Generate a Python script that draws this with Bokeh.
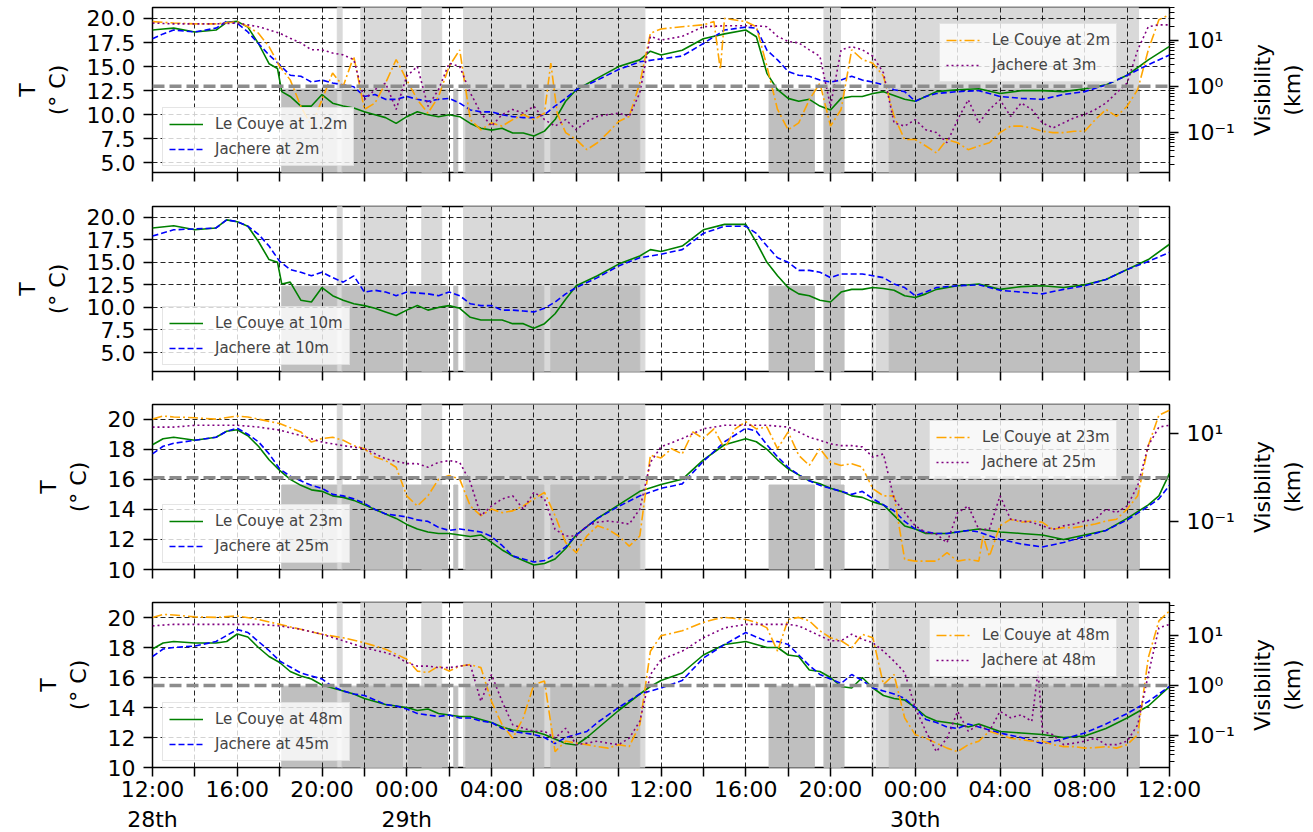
import math
from bokeh.plotting import figure
from bokeh.models import (Range1d, LogScale, LogAxis, FixedTicker, Legend, LegendItem,
                          CustomJSTickFormatter, NumeralTickFormatter, Span)
from bokeh.layouts import column, row
from bokeh.core.properties import value
from bokeh.embed import file_html
from bokeh.resources import INLINE

FONT = "DejaVu Sans"

# ---------------- data (hours since 28th 12:00) ----------------
x_label_hours = [0, 4, 8, 12, 16, 20, 24, 28, 32, 36, 40, 44, 48]
x_labels = ["12:00\n28th", "16:00", "20:00", "00:00\n29th", "04:00", "08:00", "12:00",
            "16:00", "20:00", "00:00\n30th", "04:00", "08:00", "12:00"]

vis_ticks_km = [0.1, 1, 10]
vis_tick_labels = ["10\u207b\u00b9", "10\u2070", "10\u00b9"]
fog_threshold_km = 1.0

# shaded periods (hours)
light_start = [8.72, 9.83, 12.71, 14.68, 31.69, 33.95, 34.15]
light_end = [8.95, 12.0, 13.65, 23.24, 32.47, 34.05, 46.54]
dark_start = [6.1, 8.95, 12.05, 14.22, 14.79, 18.8, 29.1, 31.7, 34.77]
dark_end = [8.7, 11.8, 13.94, 14.41, 18.47, 23.0, 31.24, 32.64, 46.58]

# Panel 1 : temperature (deg C)
p1_couye_T = [(0,18.8),(0.5,18.9),(1,19.0),(2,18.6),(3,18.8),(3.5,19.6),(4,19.7),(4.5,19.1),(5,17.4),(5.5,15.3),(5.9,14.8),(6.1,12.4),(6.5,11.9),(7,10.9),(7.5,10.9),(8,12.1),(8.5,11.2),(9,10.9),(9.5,10.7),(10,10.3),(10.5,10.0),(11,9.7),(11.5,9.1),(12,9.8),(12.5,10.3),(13,10.0),(13.5,9.8),(14,10.0),(14.5,9.8),(15,9.1),(15.5,8.6),(16,8.4),(16.5,8.6),(17,8.1),(17.5,8.1),(18,7.8),(18.5,8.3),(19,9.5),(19.5,11.4),(20,12.6),(21,13.8),(22,15.0),(23,15.7),(23.5,16.6),(24,16.2),(25,16.7),(26,17.9),(27,18.4),(28,18.8),(28.5,18.1),(29,14.3),(29.5,12.6),(30,11.7),(30.5,11.4),(31,11.6),(31.5,10.9),(32,10.5),(32.5,11.7),(33,11.9),(33.5,11.9),(34,12.2),(34.5,12.4),(35,12.0),(35.5,11.6),(36,11.4),(36.5,11.9),(37,12.4),(38,12.6),(39,12.7),(40,12.2),(41,12.5),(42,12.5),(43,12.4),(44,12.7),(45,13.1),(46,14.1),(47,15.7),(48,17.1)]
p1_jachere_T = [(0,17.9),(0.5,18.4),(1,18.8),(2,18.6),(3,19.0),(3.5,19.7),(4,19.5),(4.5,18.6),(5,17.4),(5.5,16.2),(6,15.2),(6.5,14.1),(7,14.0),(7.5,13.4),(8,13.6),(8.5,13.3),(9,13.1),(9.5,12.9),(10,11.9),(10.5,12.1),(11,11.6),(11.5,11.6),(12,11.9),(12.5,11.6),(13,11.4),(13.5,11.6),(14,11.7),(14.5,11.2),(15,10.5),(15.5,10.3),(16,10.3),(16.5,10.0),(17,9.8),(17.5,9.7),(18,9.7),(18.5,10.0),(19,10.9),(19.5,11.7),(20,12.6),(21,13.6),(22,14.7),(23,15.5),(24,15.8),(25,16.1),(26,17.4),(27,18.8),(28,19.1),(28.5,19.0),(29,16.7),(29.5,15.7),(30,14.5),(30.5,14.1),(31,14.0),(31.5,13.6),(32,13.4),(32.5,13.6),(33,14.0),(33.5,13.6),(34,13.4),(34.5,13.1),(35,12.6),(35.5,12.4),(36,11.4),(36.5,11.9),(37,12.2),(38,12.4),(39,12.5),(40,11.9),(41,11.7),(42,11.6),(43,12.1),(44,12.4),(45,13.1),(46,14.1),(47,15.2),(48,16.2)]
# Panel 1 : visibility, log10(km)
p1_couye_vis = [(0,1.40),(1,1.37),(2,1.35),(3,1.35),(4,1.40),(4.5,1.29),(5,1.15),(5.5,0.86),(6,0.43),(6.5,0.14),(7,-0.43),(7.5,-0.86),(8,-0.29),(8.5,0.29),(9,0.0),(9.5,0.65),(10,-0.50),(10.5,-0.36),(11,0.07),(11.5,0.58),(12,0.14),(12.5,-0.29),(13,-0.58),(13.5,-0.22),(14,0.43),(14.5,0.79),(15,-0.72),(15.5,-0.94),(16,-0.79),(16.5,-0.86),(17,-0.72),(17.5,-0.61),(18,-0.72),(18.5,-0.58),(18.8,0.50),(19.1,-0.58),(19.5,-1.0),(20,-1.15),(20.5,-1.37),(21,-1.22),(21.5,-1.0),(22,-0.76),(22.5,-0.65),(23,0.07),(23.5,1.15),(24,1.24),(25,1.29),(26,1.33),(26.5,1.40),(26.8,0.36),(27,1.47),(28,1.40),(28.5,1.29),(29,0.43),(29.5,-0.50),(30,-0.94),(30.5,-0.79),(31,-0.29),(31.5,0.07),(32,-0.86),(32.5,-0.50),(33,0.79),(33.5,0.58),(34,0.50),(34.5,0.22),(35,-0.65),(35.5,-1.15),(36,-1.15),(36.5,-1.29),(37,-1.44),(37.5,-1.15),(38,-1.22),(38.5,-1.37),(39,-1.29),(39.5,-1.22),(40,-1.0),(40.5,-0.86),(41,-0.86),(41.5,-0.90),(42,-0.97),(42.5,-1.0),(43,-1.0),(43.5,-0.97),(44,-0.97),(44.5,-0.72),(45,-0.50),(45.5,-0.65),(46,-0.43),(46.5,-0.07),(47,0.79),(47.5,1.44),(48,1.55)]
p1_jachere_vis = [(0,1.37),(1,1.35),(2,1.35),(3,1.35),(4,1.37),(4.5,1.33),(5,1.29),(5.5,1.22),(6,1.15),(6.5,1.04),(7,0.94),(7.5,0.79),(8,0.79),(8.5,0.72),(9,0.68),(9.5,0.58),(10,-0.29),(10.5,-0.07),(11,0.07),(11.5,-0.50),(12,0.22),(12.5,0.43),(13,-0.43),(13.5,-0.07),(14,0.50),(14.5,0.43),(15,-0.14),(15.5,-0.58),(16,-0.86),(16.5,-0.61),(17,-0.50),(17.5,-0.58),(18,-0.43),(18.5,-0.72),(19,-0.86),(19.5,-0.72),(20,-0.94),(20.5,-0.76),(21,-0.65),(21.5,-0.61),(22,-0.58),(22.5,-0.65),(23,-0.14),(23.5,1.08),(24,1.0),(25,1.08),(26,1.29),(27,1.31),(28,1.31),(28.5,1.31),(29,1.29),(29.5,1.08),(30,0.97),(30.5,0.94),(31,0.79),(31.5,0.65),(32,-0.43),(32.5,0.79),(33,0.86),(33.5,0.79),(34,0.65),(34.5,0.29),(35,-0.79),(35.5,-0.86),(36,-0.72),(36.5,-0.94),(37,-1.0),(37.5,-1.22),(38,-0.72),(38.5,-0.29),(39,-0.79),(39.5,-0.50),(40,-0.29),(40.5,-0.65),(41,-0.36),(41.5,-0.50),(42,-0.79),(42.5,-0.90),(43,-0.79),(43.5,-0.68),(44,-0.61),(44.5,-0.50),(45,-0.36),(45.5,-0.14),(46,0.07),(46.5,0.79),(47,1.29),(47.5,1.33),(48,1.33)]

# Panel 2 : temperature (deg C)
p2_couye_T = [(0,18.8),(1,19.05),(2,18.6),(3,18.8),(3.5,19.7),(4,19.5),(4.5,19.0),(5,17.3),(5.5,15.3),(5.9,15.0),(6.1,12.6),(6.5,12.8),(7,10.8),(7.5,10.6),(8,12.2),(8.5,11.3),(9,10.8),(9.5,10.4),(10,10.2),(10.5,9.9),(11,9.5),(11.5,9.1),(12,9.7),(12.5,10.2),(13,9.7),(13.5,10.0),(14,10.2),(14.5,9.9),(15,8.9),(15.5,8.6),(16,8.6),(16.5,8.6),(17,8.2),(17.5,8.2),(18,7.7),(18.5,8.2),(19,9.3),(19.5,10.9),(20,12.4),(21,13.5),(22,14.8),(23,15.7),(23.5,16.4),(24,16.2),(25,16.8),(26,18.6),(27,19.2),(28,19.2),(28.5,17.2),(29,15.0),(29.5,13.5),(30,12.2),(30.5,11.5),(31,11.3),(31.5,10.8),(32,10.6),(32.5,11.7),(33,12.0),(33.5,12.0),(34,12.2),(34.5,12.1),(35,11.9),(35.5,11.3),(36,11.1),(36.5,11.5),(37,12.0),(38,12.4),(39,12.6),(40,12.0),(41,12.3),(42,12.4),(43,12.2),(44,12.5),(45,13.1),(46,14.2),(47,15.3),(48,17.0)]
p2_jachere_T = [(0,17.9),(1,18.6),(2,18.7),(3,18.8),(3.5,19.7),(4,19.5),(4.5,19.0),(5,18.1),(5.5,16.8),(6,15.1),(6.5,14.2),(7,13.9),(7.5,13.5),(8,13.9),(8.5,13.3),(9,12.8),(9.5,13.5),(10,11.7),(10.5,11.9),(11,11.7),(11.5,11.3),(12,11.7),(12.5,11.6),(13,11.5),(13.5,11.3),(14,11.7),(14.5,11.3),(15,10.4),(15.5,10.2),(16,10.2),(16.5,9.7),(17,9.7),(17.5,9.6),(18,9.5),(18.5,9.9),(19,10.6),(19.5,11.5),(20,12.2),(21,13.3),(22,14.6),(23,15.5),(24,15.9),(25,16.4),(26,18.2),(27,19.0),(28,19.0),(28.5,18.2),(29,16.8),(29.5,15.5),(30,15.0),(30.5,14.1),(31,14.1),(31.5,13.9),(32,13.3),(32.5,13.7),(33,13.7),(33.5,13.7),(34,13.5),(34.5,13.3),(35,12.6),(35.5,12.2),(36,11.3),(36.5,11.7),(37,12.2),(38,12.4),(39,12.5),(40,11.9),(41,11.7),(42,11.5),(43,12.0),(44,12.4),(45,13.1),(46,14.2),(47,15.1),(48,16.1)]

# Panel 3 : temperature (deg C)
p3_couye_T = [(0,18.3),(0.5,18.7),(1,18.8),(2,18.6),(3,18.8),(3.5,19.2),(4,19.3),(4.5,18.9),(5,18.2),(5.5,17.3),(6,16.6),(6.5,16.0),(7,15.6),(7.5,15.3),(8,15.2),(8.5,14.9),(9,14.8),(9.5,14.6),(10,14.3),(10.5,14.0),(11,13.7),(11.5,13.4),(12,13.0),(12.5,12.7),(13,12.5),(13.5,12.4),(14,12.4),(14.5,12.3),(15,12.2),(15.5,12.3),(16,11.8),(16.5,11.3),(17,10.9),(17.5,10.6),(18,10.3),(18.5,10.4),(19,10.7),(19.5,11.4),(20,12.3),(21,13.4),(22,14.3),(23,15.2),(24,15.65),(25,16.0),(26,17.3),(27,18.3),(28,18.7),(28.5,18.5),(29,18.0),(29.5,17.3),(30,16.7),(30.5,16.3),(31,15.9),(31.5,15.7),(32,15.4),(32.5,15.2),(33,14.9),(33.5,14.8),(34,14.5),(34.5,14.3),(35,13.6),(35.5,12.9),(36,12.7),(36.5,12.4),(37,12.4),(37.5,12.4),(38,12.5),(38.5,12.6),(39,12.7),(40,12.5),(41,12.4),(42,12.3),(43,12.0),(44,12.3),(45,12.6),(46,13.4),(47,14.3),(47.5,14.9),(48,16.4)]
p3_jachere_T = [(0,17.7),(0.5,18.2),(1,18.4),(2,18.6),(3,18.8),(3.5,19.2),(4,19.4),(4.5,19.0),(5,18.5),(5.5,17.7),(6,16.7),(6.5,16.2),(7,15.9),(7.5,15.6),(8,15.4),(8.5,15.0),(9,14.9),(9.5,14.7),(10,14.4),(10.5,14.0),(11,13.7),(11.5,13.6),(12,13.5),(12.5,13.3),(13,13.2),(13.5,12.8),(14,12.6),(14.5,12.7),(15,12.6),(15.5,12.5),(16,12.2),(16.5,11.6),(17,10.9),(17.5,10.7),(18,10.5),(18.5,10.6),(19,11.0),(19.5,11.5),(20,12.3),(21,13.4),(22,14.2),(23,14.9),(24,15.4),(25,15.7),(26,17.2),(27,18.5),(28,19.4),(28.5,19.2),(29,18.3),(29.5,17.5),(30,16.8),(30.5,16.3),(31,15.9),(31.5,15.6),(32,15.4),(32.5,15.2),(33,15.0),(33.5,15.2),(34,14.7),(34.5,14.3),(35,13.9),(35.5,13.2),(36,12.7),(36.5,12.5),(37,12.4),(37.5,12.4),(38,12.5),(38.5,12.6),(39,12.5),(40,12.0),(41,11.7),(42,11.5),(43,11.8),(44,12.2),(45,12.6),(46,13.3),(47,14.2),(47.5,14.7),(48,15.6)]
# Panel 3 : visibility, log10(km)
p3_couye_vis = [(0,1.33),(0.5,1.40),(1,1.38),(2,1.36),(3,1.33),(4,1.40),(4.5,1.38),(5,1.33),(6,1.23),(7,1.04),(7.5,0.81),(8,0.89),(8.5,0.92),(9,0.85),(9.5,0.73),(10,0.66),(10.5,0.47),(11,0.39),(11.5,0.24),(12,-0.41),(12.5,-0.64),(13,-0.41),(13.5,-0.03),(14,0.05),(14.5,-0.03),(15,-0.64),(15.5,-0.86),(16,-0.71),(16.5,-0.79),(17,-0.75),(17.5,-0.64),(18,-0.48),(18.5,-0.33),(19,-0.86),(19.5,-1.47),(20,-1.70),(20.5,-1.32),(21,-1.09),(21.5,-1.17),(22,-1.32),(22.5,-1.55),(23,-1.32),(23.5,0.51),(24,0.45),(24.5,0.66),(25,0.54),(25.5,1.04),(26,0.89),(26.5,1.11),(27,0.66),(27.5,1.11),(28,1.27),(28.5,1.11),(29,1.15),(29.5,0.66),(30,1.04),(30.5,0.51),(31,0.28),(31.5,0.66),(32,0.35),(32.5,0.28),(33,0.32),(33.5,0.24),(34,-0.25),(34.5,-0.41),(35,-0.41),(35.5,-1.85),(36,-1.89),(36.5,-1.89),(37,-1.89),(37.5,-1.70),(38,-1.89),(38.5,-1.85),(39,-1.89),(39.2,-1.32),(39.5,-1.78),(40,-1.09),(40.5,-0.94),(41,-1.01),(41.5,-0.98),(42,-1.01),(42.5,-1.17),(43,-1.13),(43.5,-1.13),(44,-1.09),(44.5,-1.05),(45,-0.98),(45.5,-0.94),(46,-0.71),(46.5,-0.41),(47,0.73),(47.5,1.42),(48,1.53)]
p3_jachere_vis = [(0,1.15),(1,1.15),(2,1.19),(3,1.19),(4,1.19),(5,1.15),(6,1.08),(7,0.96),(8,0.81),(9,0.73),(10,0.66),(11,0.43),(12,0.32),(12.5,0.32),(13,0.24),(13.5,0.35),(14,0.39),(14.5,0.35),(15,-0.10),(15.5,-0.86),(16,-0.64),(16.5,-0.48),(17,-0.41),(17.5,-0.71),(18,-0.33),(18.5,-0.48),(19,-1.17),(19.5,-1.32),(20,-1.32),(20.5,-1.09),(21,-1.01),(21.5,-0.98),(22,-1.01),(22.5,-1.05),(23,-0.71),(23.5,0.35),(24,0.70),(25,0.89),(26,1.11),(27,1.19),(28,1.19),(29,1.19),(30,1.15),(30.5,1.04),(31,0.92),(31.5,0.85),(32,0.77),(32.5,0.73),(33,0.73),(33.5,0.70),(34,0.47),(34.5,0.54),(35,-0.48),(35.5,-0.79),(36,-1.09),(36.5,-1.24),(37,-1.28),(37.5,-1.47),(38,-0.79),(38.5,-0.64),(39,-1.17),(39.5,-1.17),(40,-0.41),(40.5,-0.94),(41,-0.98),(41.5,-1.01),(42,-1.09),(42.5,-1.17),(43,-1.09),(43.5,-1.05),(44,-0.98),(44.5,-0.94),(45,-0.71),(45.5,-0.79),(46,-0.64),(46.5,-0.18),(47,0.73),(47.5,1.15),(48,1.19)]

# Panel 4 : temperature (deg C)
p4_couye_T = [(0,17.9),(0.5,18.3),(1,18.4),(2,18.3),(3,18.3),(3.5,18.4),(4,18.9),(4.5,18.7),(5,18.0),(5.5,17.4),(6,17.0),(6.5,16.4),(7,16.1),(7.5,15.9),(8,15.5),(8.5,15.3),(9,15.1),(9.5,14.9),(10,14.6),(10.5,14.4),(11,14.2),(11.5,14.1),(12,14.0),(12.5,13.8),(13,13.9),(13.5,13.6),(14,13.5),(14.5,13.4),(15,13.4),(15.5,13.2),(16,13.0),(16.5,12.7),(17,12.5),(17.5,12.4),(18,12.4),(18.5,12.2),(19,11.9),(19.5,11.6),(20,11.5),(20.5,12.0),(21,12.6),(22,13.8),(23,14.9),(23.5,15.4),(24,15.8),(25,16.3),(26,17.5),(27,18.2),(28,18.4),(28.5,18.2),(29,18.0),(29.5,18.0),(30,17.5),(30.5,17.4),(31,16.5),(31.5,16.4),(32,16.0),(32.5,15.4),(33,15.3),(33.5,16.0),(34,15.3),(34.5,14.8),(35,14.6),(35.5,14.5),(36,14.0),(36.5,13.4),(37,13.1),(37.5,13.0),(38,12.9),(38.5,12.7),(39,12.9),(40,12.4),(41,12.3),(42,12.2),(43,12.0),(44,12.1),(45,12.6),(46,13.3),(47,14.1),(48,15.4)]
p4_jachere_T = [(0,17.4),(0.5,17.9),(1,18.0),(2,18.1),(3,18.4),(3.5,18.8),(4,19.2),(4.5,19.0),(5,18.4),(5.5,17.8),(6,17.1),(6.5,16.7),(7,16.3),(7.5,16.1),(8,15.9),(8.5,15.4),(9,15.1),(9.5,14.9),(10,14.8),(10.5,14.5),(11,14.2),(11.5,14.1),(12,13.9),(12.5,13.6),(13,13.5),(13.5,13.4),(14,13.5),(14.5,13.3),(15,13.3),(15.5,13.1),(16,13.0),(16.5,12.6),(17,12.4),(17.5,12.3),(18,12.2),(18.5,12.0),(19,11.6),(19.5,12.0),(20,12.2),(20.5,12.4),(21,13.0),(22,14.0),(23,14.9),(24,15.3),(25,15.8),(26,17.3),(27,18.2),(28,19.0),(28.5,18.7),(29,18.4),(29.5,18.4),(30,18.2),(30.5,17.5),(31,16.8),(31.5,16.2),(32,15.9),(32.5,15.6),(33,16.2),(33.5,15.8),(34,15.3),(34.5,15.1),(35,14.9),(35.5,14.6),(36,14.0),(36.5,13.2),(37,13.0),(37.5,12.7),(38,12.6),(38.5,12.9),(39,12.7),(40,12.3),(41,12.0),(42,11.6),(43,11.9),(44,12.3),(45,12.9),(46,13.6),(47,14.4),(48,15.4)]
# Panel 4 : visibility, log10(km)
p4_couye_vis = [(0,1.37),(0.5,1.43),(1,1.42),(2,1.38),(3,1.37),(4,1.40),(5,1.33),(6,1.23),(7,1.13),(8,1.03),(9,0.96),(10,0.86),(11,0.73),(11.5,0.63),(12,0.53),(12.5,0.29),(13,0.26),(13.5,0.39),(14,0.29),(14.5,0.39),(15,0.42),(15.5,0.36),(16,-0.32),(16.5,-0.79),(17,-1.06),(17.5,-0.65),(18,0.02),(18.5,0.09),(19,-1.33),(19.5,-1.12),(20,-1.16),(20.5,-1.19),(21,-1.23),(21.5,-1.26),(22,-1.19),(22.5,-1.23),(23,-0.79),(23.5,0.69),(24,1.0),(25,1.10),(26,1.27),(26.5,1.33),(27,1.37),(28,1.33),(28.5,1.27),(29,1.16),(29.5,0.69),(30,1.33),(30.5,1.37),(31,1.30),(31.5,1.10),(32,0.96),(32.5,0.90),(33,0.76),(33.5,1.03),(34,0.96),(34.5,0.02),(35,0.22),(35.5,-0.65),(36,-0.99),(36.5,-1.06),(37,-1.16),(37.5,-1.26),(38,-1.33),(38.5,-1.19),(39,-1.12),(39.5,-0.92),(40,-0.99),(40.5,-1.06),(41,-1.09),(41.5,-1.12),(42,-1.12),(42.5,-1.19),(43,-1.23),(43.5,-1.23),(44,-1.26),(44.5,-1.25),(45,-1.23),(45.5,-1.26),(46,-1.19),(46.5,-0.99),(47,0.56),(47.5,1.30),(48,1.50)]
p4_jachere_vis = [(0,1.20),(1,1.23),(2,1.23),(3,1.23),(4,1.23),(5,1.23),(6,1.20),(7,1.13),(8,1.03),(9,0.90),(10,0.76),(11,0.66),(11.5,0.59),(12,0.46),(12.5,0.39),(13,0.39),(13.5,0.36),(14,0.36),(14.5,0.39),(15,0.42),(15.5,-0.32),(16,0.22),(16.5,-0.32),(17,-0.79),(17.5,-0.86),(18,-0.92),(18.5,-0.92),(19,-1.06),(19.5,-0.86),(20,-1.19),(20.5,-1.16),(21,-1.12),(21.5,-1.16),(22,-1.19),(22.5,-1.06),(23,-0.72),(23.5,0.22),(24,0.52),(25,0.69),(26,0.96),(27,1.16),(28,1.23),(29,1.23),(30,1.23),(30.5,1.20),(31,1.10),(31.5,1.00),(32,0.90),(32.5,0.90),(33,1.03),(33.5,0.93),(34,0.86),(34.5,0.69),(35,0.49),(35.5,0.26),(36,-0.45),(36.5,-0.92),(37,-1.33),(37.5,-1.06),(38,-0.52),(38.5,-0.92),(39,-0.79),(39.5,-0.92),(40,-0.52),(40.5,-0.65),(41,-0.59),(41.5,-0.72),(41.8,0.29),(42,-0.92),(42.5,-0.99),(43,-1.19),(43.5,-1.16),(44,-1.12),(44.5,-1.06),(45,-1.19),(45.5,-1.19),(46,-1.12),(46.5,-0.79),(47,0.22),(47.5,1.16),(48,1.23)]

legend_T_labels = [["Le Couye at 1.2m", "Jachere at 2m"], ["Le Couye at 10m", "Jachere at 10m"],
                   ["Le Couye at 23m", "Jachere at 25m"], ["Le Couye at 48m", "Jachere at 45m"]]
legend_vis_labels = [["Le Couye at 2m", "Jachere at 3m"], None,
                     ["Le Couye at 23m", "Jachere at 25m"], ["Le Couye at 48m", "Jachere at 48m"]]
T_axis_label = "T\n(\u00b0 C)"
vis_axis_label = "Visibility\n(km)"

# ---------------- styling ----------------
GREEN, BLUE, ORANGE, PURPLE = "#008000", "#0000ff", "#ffa500", "#800080"
LIGHT, DARK = "#d9d9d9", "#bfbfbf"
FRAME_W, FRAME_H = 1017, 165
LEFT_B, RIGHT_B = 152, 75
SIDE_W = 1313 - LEFT_B - FRAME_W - RIGHT_B
x_range = Range1d(0, 48)

panel_cfg = [
    dict(ylim=(4.0, 21.14), yticks=[5, 7.5, 10, 12.5, 15, 17.5, 20], fmt="0.0", vis=(-1.863, 1.705),
         vticks=[0.1, 1, 10], minor=True, dark=0.505, top=7, bottom=17),
    dict(ylim=(2.9, 21.18), yticks=[5, 7.5, 10, 12.5, 15, 17.5, 20], fmt="0.0", vis=None,
         vticks=None, minor=False, dark=0.517, top=17, bottom=16),
    dict(ylim=(10.0, 20.98), yticks=[10, 12, 14, 16, 18, 20], fmt="0", vis=(-2.08, 1.662),
         vticks=[0.1, 10], minor=False, dark=0.512, top=17, bottom=16),
    dict(ylim=(10.0, 21.0), yticks=[10, 12, 14, 16, 18, 20], fmt="0", vis=(-1.65, 1.67),
         vticks=[0.1, 1, 10], minor=True, dark=0.493, top=17, bottom=60),
]
T_series = [(p1_couye_T, p1_jachere_T), (p2_couye_T, p2_jachere_T),
            (p3_couye_T, p3_jachere_T), (p4_couye_T, p4_jachere_T)]
V_series = [(p1_couye_vis, p1_jachere_vis), None,
            (p3_couye_vis, p3_jachere_vis), (p4_couye_vis, p4_jachere_vis)]

minor_vis = [k * 10.0 ** e for e in (-3, -2, -1, 0, 1) for k in range(2, 10)]


def style_axis(ax, size="22px"):
    ax.major_label_text_font = FONT
    ax.major_label_text_font_size = size
    ax.major_label_text_color = "black"
    ax.axis_label_text_font = FONT
    ax.axis_label_text_font_size = "22px"
    ax.axis_label_text_font_style = "normal"
    ax.axis_label_text_color = "black"
    ax.axis_line_color = None
    ax.major_tick_out = 9
    ax.major_tick_in = 0
    ax.major_tick_line_width = 1.5
    ax.major_tick_line_color = "black"
    ax.minor_tick_line_color = None


def make_legend(items, loc):
    return Legend(items=items, location=loc, label_text_font=FONT, label_text_font_size="15px",
                  background_fill_alpha=0.8, border_line_color="#cccccc", border_line_width=1,
                  glyph_width=34, glyph_height=20, label_height=20, spacing=5, padding=6,
                  label_standoff=12, margin=0)


rows = []
for i, cfg in enumerate(panel_cfg):
    last = i == len(panel_cfg) - 1
    y0, y1 = cfg["ylim"]
    p = figure(frame_width=FRAME_W, frame_height=FRAME_H, x_range=x_range, y_range=Range1d(y0, y1),
               output_backend="svg", toolbar_location=None,
               min_border_left=LEFT_B, min_border_right=RIGHT_B,
               min_border_top=cfg["top"], min_border_bottom=cfg["bottom"])
    p.outline_line_color = "black"
    p.outline_line_width = 1.5
    p.outline_line_alpha = 1
    p.background_fill_color = "white"
    p.border_fill_color = "white"

    # shaded periods
    p.quad(left=light_start, right=light_end, bottom=y0, top=y1, color=LIGHT, level="image")
    dark_top = y0 + cfg["dark"] * (y1 - y0)
    p.quad(left=dark_start, right=dark_end, bottom=y0, top=dark_top, color=DARK, level="image")

    # x axis
    xa = p.xaxis[0]
    style_axis(xa)
    xa.ticker = FixedTicker(ticks=list(range(0, 49, 2)))
    if last:
        xa.formatter = CustomJSTickFormatter(args=dict(pos=x_label_hours, labs=x_labels),
                                             code="const i = pos.indexOf(tick); return i >= 0 ? labs[i] : '';")
    else:
        xa.formatter = CustomJSTickFormatter(code="return '';")
    xa.major_label_standoff = 0

    # left axis
    ya = p.yaxis[0]
    style_axis(ya)
    ya.ticker = FixedTicker(ticks=cfg["yticks"])
    ya.formatter = NumeralTickFormatter(format=cfg["fmt"])
    ya.major_label_standoff = 8
    ya.axis_label = T_axis_label
    ya.axis_label_standoff = 14

    for g in (p.xgrid[0], p.ygrid[0]):
        g.grid_line_color = "black"
        g.grid_line_alpha = 0.85
        g.grid_line_dash = "5 3"
        g.grid_line_width = 1

    cT, jT = T_series[i]
    r_g = p.line([a for a, b in cT], [b for a, b in cT], line_color=GREEN, line_width=1.6)
    r_b = p.line([a for a, b in jT], [b for a, b in jT], line_color=BLUE, line_width=1.6, line_dash="6 3")
    p.add_layout(make_legend([LegendItem(label=legend_T_labels[i][0], renderers=[r_g]),
                              LegendItem(label=legend_T_labels[i][1], renderers=[r_b])], (10, 6)))

    # side strip holding the right-hand axis title (reads bottom to top)
    side = figure(frame_width=SIDE_W, frame_height=FRAME_H, x_range=Range1d(0, SIDE_W),
                  y_range=Range1d(0, FRAME_H), output_backend="svg", toolbar_location=None,
                  x_axis_type=None, y_axis_type=None, min_border_left=0, min_border_right=0,
                  min_border_top=cfg["top"], min_border_bottom=cfg["bottom"])
    side.outline_line_color = None
    side.grid.visible = False
    side.background_fill_color = "white"
    side.border_fill_color = "white"

    if cfg["vis"] is not None:
        lo, hi = cfg["vis"]
        p.extra_y_ranges = {"vis": Range1d(10 ** lo, 10 ** hi)}
        p.extra_y_scales = {"vis": LogScale()}
        ra = LogAxis(y_range_name="vis")
        style_axis(ra)
        ra.ticker = FixedTicker(ticks=cfg["vticks"], minor_ticks=minor_vis if cfg["minor"] else [])
        ra.formatter = CustomJSTickFormatter(args=dict(pos=vis_ticks_km, labs=vis_tick_labels),
                                             code="const i = pos.indexOf(tick); return i >= 0 ? labs[i] : '';")
        if cfg["minor"]:
            ra.minor_tick_line_color = "black"
            ra.minor_tick_out = 5
            ra.minor_tick_in = 0
            ra.minor_tick_line_width = 1
        ra.major_label_standoff = 8
        p.add_layout(ra, "right")

        side.text(x=[1277 - (LEFT_B + FRAME_W + RIGHT_B)], y=[FRAME_H / 2], text=[vis_axis_label],
                  angle=math.pi / 2, text_align="center", text_baseline="middle",
                  text_font=value(FONT), text_font_size=value("22px"), text_color="black",
                  text_line_height=1.2)

        cV, jV = V_series[i]
        r_o = p.line([a for a, b in cV], [10 ** b for a, b in cV], y_range_name="vis",
                     line_color=ORANGE, line_width=1.6, line_dash="10 3 2 3")
        r_p = p.line([a for a, b in jV], [10 ** b for a, b in jV], y_range_name="vis",
                     line_color=PURPLE, line_width=1.6, line_dash="2 3")
        p.add_layout(Span(location=fog_threshold_km, dimension="width", y_range_name="vis",
                          line_color="#8c8c8c", line_width=3.5, line_dash="12 5"))
        labs = legend_vis_labels[i]
        wide = 191 if i == 0 else 201
        p.add_layout(make_legend([LegendItem(label=labs[0], renderers=[r_o]),
                                  LegendItem(label=labs[1], renderers=[r_p])],
                                 (1130 - LEFT_B - wide, FRAME_H - 18 - 57)))
    rows.append(row(p, side))

layout = column(*rows)
open("out.html", "w").write(file_html(layout, INLINE))
